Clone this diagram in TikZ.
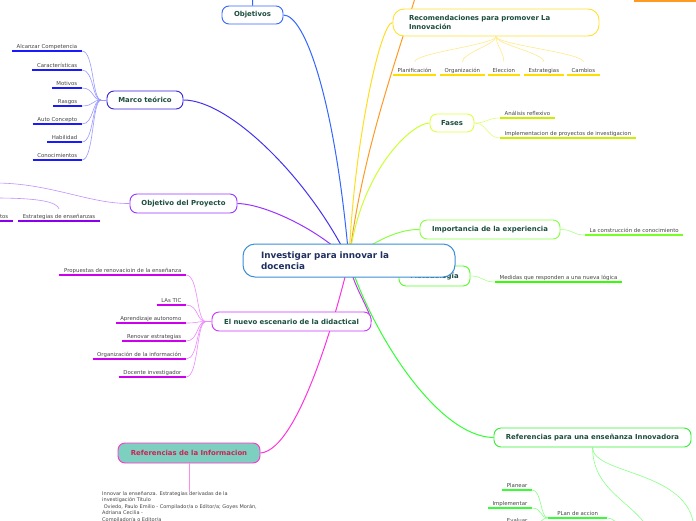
\documentclass[tikz,border=0pt]{standalone}
\usepackage{fontspec}
\setmainfont{DejaVu Sans}
\usetikzlibrary{backgrounds}
\definecolor{nodetext}{HTML}{1B4D3E}
\definecolor{lbltext}{HTML}{444444}
\definecolor{cenB}{HTML}{3B8ED6}
\definecolor{cenT}{HTML}{1F2F5F}
\definecolor{cObj}{HTML}{3366FF}
\definecolor{cMarco}{HTML}{3322DD}
\definecolor{cMarcoC}{HTML}{4433EE}
\definecolor{cMarcoL}{HTML}{9999FF}
\definecolor{cMarcoU}{HTML}{1A1AFF}
\definecolor{cProy}{HTML}{9933FF}
\definecolor{cProyL}{HTML}{C090FF}
\definecolor{cProyU}{HTML}{8800EE}
\definecolor{cRec}{HTML}{FFE033}
\definecolor{cRecC}{HTML}{FFDD22}
\definecolor{cRecL}{HTML}{FFE98A}
\definecolor{cRecU}{HTML}{FFDD00}
\definecolor{cOr}{HTML}{FF9922}
\definecolor{cFas}{HTML}{DDFF44}
\definecolor{cFasC}{HTML}{CCFF33}
\definecolor{cFasL}{HTML}{DDFF77}
\definecolor{cFasU}{HTML}{CCEE00}
\definecolor{cImp}{HTML}{88FF44}
\definecolor{cImpL}{HTML}{AAFF88}
\definecolor{cImpU}{HTML}{77FF22}
\definecolor{cMet}{HTML}{55FF22}
\definecolor{cMetU}{HTML}{33FF00}
\definecolor{cNue}{HTML}{CC33FF}
\definecolor{cNueC}{HTML}{CC33EE}
\definecolor{cNueL}{HTML}{EE88FF}
\definecolor{cNueU}{HTML}{CC00EE}
\definecolor{cRefI}{HTML}{FF33CC}
\definecolor{cRefIC}{HTML}{FF33DD}
\definecolor{cRefIL}{HTML}{FF88EE}
\definecolor{cTeal}{HTML}{7DCFC0}
\definecolor{cRefT}{HTML}{CC2255}
\definecolor{cRefP}{HTML}{33EE33}
\definecolor{cRefPC}{HTML}{33FF33}
\definecolor{cRefPL}{HTML}{88FF88}
\definecolor{cRefPU}{HTML}{33FF33}
\tikzset{
  mainnode/.style={draw, line width=0.9pt, rounded corners=7pt, fill=white, text=nodetext,
    font=\bfseries\fontsize{6.9}{8.3}\selectfont, minimum height=19pt, inner sep=0pt},
  leafbase/.style={font=\fontsize{5.4}{6.5}\selectfont, text=lbltext, inner xsep=4.5pt,
    inner ysep=1.2pt, text height=4pt, text depth=1.3pt},
  leafL/.style={leafbase, anchor=south east},
  leafR/.style={leafbase, anchor=south west},
  uline/.style={line width=1.4pt},
  mconn/.style={line width=1pt},
  lconn/.style={line width=0.6pt},
}
\begin{document}
\begin{tikzpicture}[x=1pt,y=-1pt]
\useasboundingbox (0,0) rectangle (696,520);

% Metodologia (partly hidden by the central node)
\node[mainnode, draw=cMet, minimum width=71pt, minimum height=20pt] (met) at (434.5,276) {Metodología};

% central node
\node[draw=cenB, line width=1pt, rounded corners=12pt, fill=white, text=cenT,
  font=\bfseries\fontsize{8.8}{11}\selectfont, text width=176pt, align=left,
  inner xsep=18pt, inner ysep=0pt, minimum height=33pt] (cen) at (349,260.5)
  {Investigar para innovar la\\docencia};

% main nodes
\node[mainnode, draw=cObj, minimum width=61pt, minimum height=18pt] (obj) at (252.5,15) {Objetivos};
\node[mainnode, draw=cMarco, minimum width=76pt, minimum height=18pt] (marco) at (145,100) {Marco teórico};
\node[mainnode, draw=cProy, minimum width=107pt] (proy) at (183.5,203.5) {Objetivo del Proyecto};
\node[mainnode, draw=cRec, rounded corners=11pt, text width=174pt, align=left, inner xsep=16pt,
  minimum height=27pt, font=\bfseries\fontsize{6.9}{9}\selectfont] (rec) at (496,22.5)
  {Recomendaciones para promover La\\Innovación};
\node[mainnode, draw=cFas, minimum width=44pt, minimum height=18pt] (fas) at (452,123) {Fases};
\node[mainnode, draw=cImp, minimum width=140pt] (imp) at (490,229.5) {Importancia de la experiencia};
\node[mainnode, draw=cNue, minimum width=159pt] (nue) at (291.5,321.5) {El nuevo escenario de la didactical};
\node[mainnode, draw=cRefI, fill=cTeal, text=cRefT, minimum width=142pt, minimum height=20pt] (refi) at (189,453) {Referencias de la Informacion};
\node[mainnode, draw=cRefP, minimum width=197pt] (refp) at (592.5,437.5) {Referencias para una enseñanza Innovadora};

% main connectors
\begin{scope}[on background layer]
\draw[mconn, cObj] (obj.east) .. controls (305,15) and (335,100) .. (cen.center);
\draw[mconn, cMarcoC] (marco.east) .. controls (230,100) and (310,180) .. (cen.center);
\draw[mconn, cProy] (proy.east) .. controls (265,204) and (320,230) .. (cen.center);
\draw[mconn, cRecC] (rec.west) .. controls (381,22) and (354,140) .. (cen.center);
\coordinate (orTop) at (418,-12);
\draw[mconn, cOr] (cen.center) .. controls (362,150) and (400,50) .. (orTop);
\draw[mconn, cFasC] (fas.west) .. controls (412,123) and (360,170) .. (cen.center);
\draw[mconn, cImp] (imp.west) .. controls (400,229) and (375,240) .. (cen.center);
\draw[mconn, cMet] (met.west) -- (cen.center);
\draw[mconn, cNueC] (cen.center) .. controls (352,285) and (368,305) .. (nue.east);
\draw[mconn, cRefIC] (cen.center) .. controls (340,300) and (300,450) .. (refi.east);
\draw[mconn, cRefPC] (cen.center) .. controls (375,340) and (440,437) .. (refp.west);
\end{scope}

% Objetivos: link going up
\coordinate (objUp) at (253,-8);
\draw[mconn, cObj] (obj.north) -- (objUp);

% orange branch underline at the top right
\coordinate (orA) at (634,1);
\coordinate (orB) at (700,1);
\draw[line width=2pt, cOr] (orA) -- (orB);

% Marco teorico children
\coordinate (mhub) at (101,100);
\draw[lconn, cMarcoL] (mhub) -- (marco.west);
\foreach \n/\t/\y in {m1/Alcanzar Competencia/51, m2/Características/70, m3/Motivos/88,
  m4/Rasgos/106, m5/Auto Concepto/124, m6/Habilidad/142, m7/Conocimientos/160} {
  \node[leafL] (\n) at (82,\y) {\t};
  \draw[uline, cMarcoU] (\n.south west) -- (\n.south east);
  \draw[lconn, cMarcoL] (\n.south east) .. controls +(12,0) and +(-9,0) .. (mhub);
}

% Objetivo del Proyecto children
\node[leafL] (pe) at (100,221) {Estrategias de enseñanzas};
\draw[uline, cProyU] (pe.south west) -- (pe.south east);
\node[leafL] (pt) at (13,221) {tos};
\draw[uline, cProyU] (pt.south west) -- (pt.south east);
\coordinate (offP1) at (-5,183);
\coordinate (offP2) at (-5,198);
\draw[lconn, cProyL] (proy.west) .. controls (90,204) and (50,183) .. (offP1);
\draw[lconn, cProyL] ([yshift=4pt]pe.north) .. controls (57,202) and (40,198) .. (offP2);

% Recomendaciones children
\foreach \n/\t/\x in {r1/Planificación/393, r2/Organización/440, r3/Eleccion/488,
  r4/Estrategias/524, r5/Cambios/567} {
  \node[leafR] (\n) at (\x,75) {\t};
  \draw[uline, cRecU] (\n.south west) -- (\n.south east);
  \draw[lconn, cRecL] (rec.south) .. controls +(0,8) and +(0,-9) .. ([yshift=5pt]\n.north);
}

% Fases children
\node[leafR] (f1) at (500,118) {Análisis reflexivo};
\node[leafR] (f2) at (500,138) {Implementacion de proyectos de investigacion};
\foreach \n in {f1,f2} {
  \draw[uline, cFasU] (\n.south west) -- (\n.south east);
  \draw[lconn, cFasL] (fas.east) .. controls +(13,0) and +(-13,0) .. (\n.south west);
}

% Importancia child
\node[leafR] (i1) at (585,235) {La construcción de conocimiento};
\draw[uline, cImpU] (i1.south west) -- (i1.south east);
\draw[lconn, cImpL] (imp.east) .. controls +(13,0) and +(-13,0) .. (i1.south west);

% Metodologia child
\node[leafR] (me1) at (495,282) {Medidas que responden a una nueva lógica};
\draw[uline, cMetU] (me1.south west) -- (me1.south east);
\draw[lconn, cImpL] (met.east) .. controls +(13,0) and +(-13,0) .. (me1.south west);

% Nuevo escenario children
\coordinate (nhub) at (206,321.5);
\draw[lconn, cNueL] (nhub) -- (nue.west);
\node[leafL] (n1) at (186,275) {Propuestas de renovacioin de la ense\~nanza};
\draw[uline, cNueU] (n1.south west) -- (n1.south east);
\draw[lconn, cNueL] (n1.south east) .. controls +(13,0) and +(-10,0) .. (nhub);
\foreach \n/\t/\y in {n2/LAs TIC/305, n3/Aprendizaje autonomo/323, n4/Renovar estrategias/341,
  n5/Organización de la información/359, n6/Docente investigador/377} {
  \node[leafL] (\n) at (186,\y) {\t};
  \draw[uline, cNueU] (\n.south west) -- (\n.south east);
  \draw[lconn, cNueL] (\n.south east) .. controls +(13,0) and +(-10,0) .. (nhub);
}

% Referencias de la Informacion child
\node[anchor=north west, inner sep=0pt, text=lbltext, font=\fontsize{5}{6.4}\selectfont,
  align=left] (rtxt) at (102,491.5)
  {Innovar la enseñanza. Estrategias derivadas de la\\
   investigación Titulo\\
   \ Oviedo, Paulo Emilio - Compilador/a o Editor/a; Goyes Morán,\\
   Adriana Cecilia -\\
   Compilador/a o Editor/a};
\draw[lconn, cRefIL] (refi.south) -- (refi.south |- rtxt.north);

% Referencias para una ensenanza Innovadora children
\coordinate (offA) at (648,528);
\coordinate (offB) at (694,528);
\draw[lconn, cRefPL] (refp.south) .. controls (593,490) and (630,500) .. (offA);
\draw[lconn, cRefPL] (refp.south) .. controls (593,475) and (690,470) .. (offB);
\node[leafR, minimum width=59pt] (plan) at (548,518) {PLan de accion};
\draw[uline, cRefPU] (plan.south west) -- (plan.south east);
\coordinate (planOff) at (620,528);
\draw[lconn, cRefPL] (plan.south east) .. controls +(6,0) and +(-3,-5) .. (planOff);
\foreach \n/\t/\y in {p1/Planear/490, p2/Implementar/508, p3/Evaluar/525} {
  \node[leafL] (\n) at (532,\y) {\t};
  \draw[uline, cRefPU] (\n.south west) -- (\n.south east);
  \draw[lconn, cRefPL] (\n.south east) .. controls +(10,0) and +(-8,0) .. (plan.south west);
}
\end{tikzpicture}
\end{document}
